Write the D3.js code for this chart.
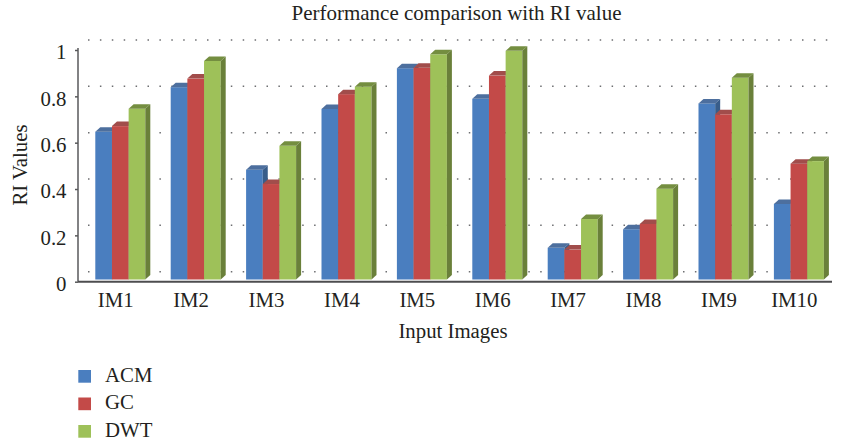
<!DOCTYPE html>
<html>
<head>
<meta charset="utf-8">
<script src="https://cdn.jsdelivr.net/npm/d3@7"></script>
<style>
    body { margin: 0; background: #fff; }
    text { font-family: "Liberation Serif", "Times New Roman", serif; fill: #231f20; }
</style>
</head>
<body>
<div id="main"></div>
<script>
const categories = ["IM1", "IM2", "IM3", "IM4", "IM5", "IM6", "IM7", "IM8", "IM9", "IM10"];
const seriesNames = ["ACM", "GC", "DWT"];
const acm = [0.638, 0.83, 0.474, 0.736, 0.912, 0.78, 0.137, 0.217, 0.76, 0.326];
const gc = [0.662, 0.867, 0.412, 0.80, 0.914, 0.88, 0.129, 0.24, 0.713, 0.5];
const dwt = [0.737, 0.943, 0.577, 0.832, 0.972, 0.987, 0.261, 0.392, 0.871, 0.511];
const yTicks = [0, 0.2, 0.4, 0.6, 0.8, 1];
const yTickLabels = ["0", "0.2", "0.4", "0.6", "0.8", "1"];

const ctx = {
    w: 841,
    h: 443,
    left: 78,
    right: 832,
    depthX: 5,
    depthY: 4.5,
    backX: 10,
    backY: 10,
    fontSize: "20.8px",
};

// front, top, side colours per series
const COLORS = {
    ACM: {front: "#4a7ebf", top: "#4d6f9e", side: "#385d8a"},
    GC:  {front: "#c34a48", top: "#a14d4b", side: "#8c3836"},
    DWT: {front: "#9ec159", top: "#748e40", side: "#6a803a"},
};

const values = {ACM: acm, GC: gc, DWT: dwt};

const svg = d3.select("#main").append("svg")
    .attr("width", ctx.w)
    .attr("height", ctx.h);

const x = d3.scaleBand()
    .domain(categories)
    .range([ctx.left, ctx.right]);

// the axis scale (front of the floor)
const y = d3.scaleLinear()
    .domain([0, 1])
    .range([281.7, 50]);

// bars stand a little behind the axis plane
const yBar = d3.scaleLinear()
    .domain([0, 1])
    .range([279.5, 47.8]);

const xs = d3.scaleBand()
    .domain(seriesNames)
    .range([0, 50]);
const groupOffset = 17.3;

// back wall dotted gridlines
svg.append("g").attr("id", "grid")
    .selectAll("line")
    .data(yTicks)
    .enter()
    .append("line")
    .attr("x1", ctx.left + ctx.backX)
    .attr("x2", ctx.right + 2)
    .attr("y1", d => y(d) - ctx.backY)
    .attr("y2", d => y(d) - ctx.backY)
    .style("stroke", "#6d6e71")
    .style("stroke-width", 1.5)
    .style("stroke-dasharray", "1.5,10.4");

// bars (painter's order, left to right)
const bars = svg.append("g").attr("id", "bars");
categories.forEach((c, i) => {
    seriesNames.forEach(s => {
        const v = values[s][i];
        const x0 = x(c) + groupOffset + xs(s);
        const x1 = x0 + xs.bandwidth();
        const yt = yBar(v);
        const yb = yBar(0);
        const dx = ctx.depthX, dy = ctx.depthY;
        const g = bars.append("g");
        g.append("rect")
            .attr("x", x0)
            .attr("y", yt)
            .attr("width", xs.bandwidth())
            .attr("height", yb - yt)
            .style("fill", COLORS[s].front);
        g.append("path")
            .attr("d", `M${x0},${yt}L${x0 + dx},${yt - dy}L${x1 + dx},${yt - dy}L${x1},${yt}Z`)
            .style("fill", COLORS[s].top);
        g.append("path")
            .attr("d", `M${x1},${yt}L${x1 + dx},${yt - dy}L${x1 + dx},${yb - dy}L${x1},${yb}Z`)
            .style("fill", COLORS[s].side);
    });
});

// y axis
const yAxis = svg.append("g")
    .attr("transform", `translate(${ctx.left},0)`)
    .call(d3.axisLeft(y)
        .tickValues(yTicks)
        .tickFormat((d, i) => yTickLabels[i])
        .tickSize(3)
        .tickPadding(8.5));
yAxis.select(".domain")
    .attr("d", `M0,48V${y(0)}`)
    .style("stroke", "#58595b")
    .style("stroke-width", 1.5);
yAxis.selectAll(".tick line")
    .style("stroke", "#58595b")
    .style("stroke-width", 1.5);
yAxis.selectAll(".tick text")
    .attr("dy", "0.42em")
    .style("font-family", "Liberation Serif, serif")
    .style("font-size", ctx.fontSize)
    .style("fill", "#231f20");

// floor line
svg.append("line")
    .attr("x1", ctx.left)
    .attr("x2", ctx.right)
    .attr("y1", y(0))
    .attr("y2", y(0))
    .style("stroke", "#4d4d4f")
    .style("stroke-width", 2);

// category labels
svg.append("g").attr("id", "xlabels")
    .selectAll("text")
    .data(categories)
    .enter()
    .append("text")
    .attr("x", d => x(d) + x.bandwidth() / 2)
    .attr("y", 306.5)
    .attr("text-anchor", "middle")
    .style("font-size", ctx.fontSize)
    .text(d => d);

svg.append("text")
    .attr("x", 456.5)
    .attr("y", 20)
    .attr("text-anchor", "middle")
    .style("font-size", "21px")
    .text("Performance comparison with RI value");

svg.append("text")
    .attr("x", 453)
    .attr("y", 338)
    .attr("text-anchor", "middle")
    .style("font-size", ctx.fontSize)
    .text("Input Images");

svg.append("text")
    .attr("transform", "translate(26.5,165) rotate(-90)")
    .attr("text-anchor", "middle")
    .style("font-size", ctx.fontSize)
    .text("RI Values");

// legend
const legend = svg.append("g").attr("id", "legend")
    .selectAll("g")
    .data(seriesNames)
    .enter()
    .append("g")
    .attr("transform", (d, i) => `translate(78.3,${370 + i * 27.5})`);
legend.append("rect")
    .attr("width", 12.7)
    .attr("height", 12.7)
    .style("fill", d => COLORS[d].front);
legend.append("text")
    .attr("x", 26.7)
    .attr("y", 11.7)
    .style("font-size", ctx.fontSize)
    .text(d => d);
</script>
</body>
</html>
